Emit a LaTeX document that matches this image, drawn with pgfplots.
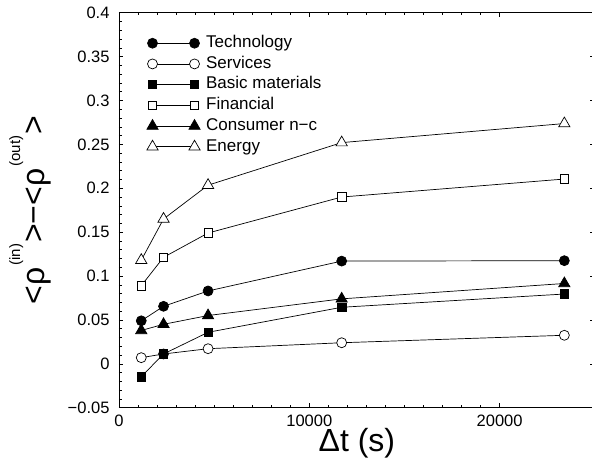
\documentclass[border=0pt]{standalone}
\usepackage{fontspec}
\setmainfont{Liberation Sans}
\usepackage{pgfplots}
\usepackage{pgfplotstable}
\pgfplotsset{compat=1.18}

% time window (s) and <rho_in>-<rho_out> per sector
\pgfplotstableread{
dt     tech    serv    basic    fin     cons    ener
1170   0.049   0.0070  -0.0147  0.0890  0.0380  0.1180
2340   0.0655  0.0112  0.0112   0.1213  0.0450  0.1650
4680   0.0830  0.0172  0.0359   0.1490  0.0550  0.2035
11700  0.1170  0.0240  0.0644   0.1900  0.0740  0.2520
23400  0.1175  0.0325  0.0795   0.2105  0.0915  0.2737
}\sectors

\begin{document}
\begin{tikzpicture}
\begin{axis}[
  at={(0pt,0pt)}, anchor=south west,
  scale only axis, width=475.8pt, height=395pt,
  xmin=0, xmax=25000, ymin=-0.05, ymax=0.4,
  scaled x ticks=false, scaled y ticks=false,
  xtick={0,10000,20000}, xticklabels={0,10000,20000},
  minor x tick num=9,
  ytick={-0.05,0,0.05,0.1,0.15,0.2,0.25,0.3,0.35,0.4},
  yticklabels={−0.05,0,0.05,0.1,0.15,0.2,0.25,0.3,0.35,0.4},
  minor y tick num=4,
  tick align=inside,
  major tick length=4.5pt, minor tick length=2.8pt,
  tick style={black, line width=0.6pt},
  axis line style={line width=0.8pt},
  ticklabel style={font=\fontsize{16.5}{18}\selectfont},
  xticklabel style={yshift=-3.5pt},
  yticklabel style={xshift=-6pt},
  xlabel={Δt (s)},
  xlabel style={at={(axis description cs:0.5,-0.1114)}, anchor=base,
    font=\fontsize{32}{36}\selectfont},
  ylabel={<ρ\kern2pt\raisebox{24pt}{\fontsize{15}{15}\selectfont(in)}\kern1pt>−<ρ\kern2pt\raisebox{24pt}{\fontsize{15}{15}\selectfont(out)}\kern1pt>},
  ylabel style={at={(axis description cs:-0.1576,0.5)}, anchor=base,
    font=\fontsize{32}{36}\selectfont},
  every axis plot/.append style={black, line width=0.7pt},
  legend cell align=left,
  legend style={draw=none, fill=none, inner sep=0pt, row sep=0pt,
    at={(axis description cs:0.0582,0.9494)}, anchor=north west,
    nodes={inner sep=2.5pt, text height=12.2pt, text depth=3.5pt,
      font=\fontsize{17}{20}\selectfont},
    /tikz/every odd column/.append style={column sep=3.5pt}},
  legend image code/.code={\draw[#1] plot coordinates {(0pt,0pt) (42pt,0pt)};},
]
\addplot[mark=*, mark size=5pt, mark options={fill=black}] table[x=dt, y=tech] {\sectors};
\addlegendentry{Technology}
\addplot[mark=*, mark size=5pt, mark options={fill=white}] table[x=dt, y=serv] {\sectors};
\addlegendentry{Services}
\addplot[mark=square*, mark size=4.2pt, mark options={fill=black}] table[x=dt, y=basic] {\sectors};
\addlegendentry{Basic materials}
\addplot[mark=square*, mark size=4.2pt, mark options={fill=white}] table[x=dt, y=fin] {\sectors};
\addlegendentry{Financial}
\addplot[mark=triangle*, mark size=6.5pt, mark options={fill=black}] table[x=dt, y=cons] {\sectors};
\addlegendentry{Consumer n−c}
\addplot[mark=triangle*, mark size=6.5pt, mark options={fill=white}] table[x=dt, y=ener] {\sectors};
\addlegendentry{Energy}
\end{axis}
\pgfresetboundingbox
\path[use as bounding box] (-119pt,-54.3pt) rectangle (473pt,407.7pt);
\end{tikzpicture}
\end{document}
